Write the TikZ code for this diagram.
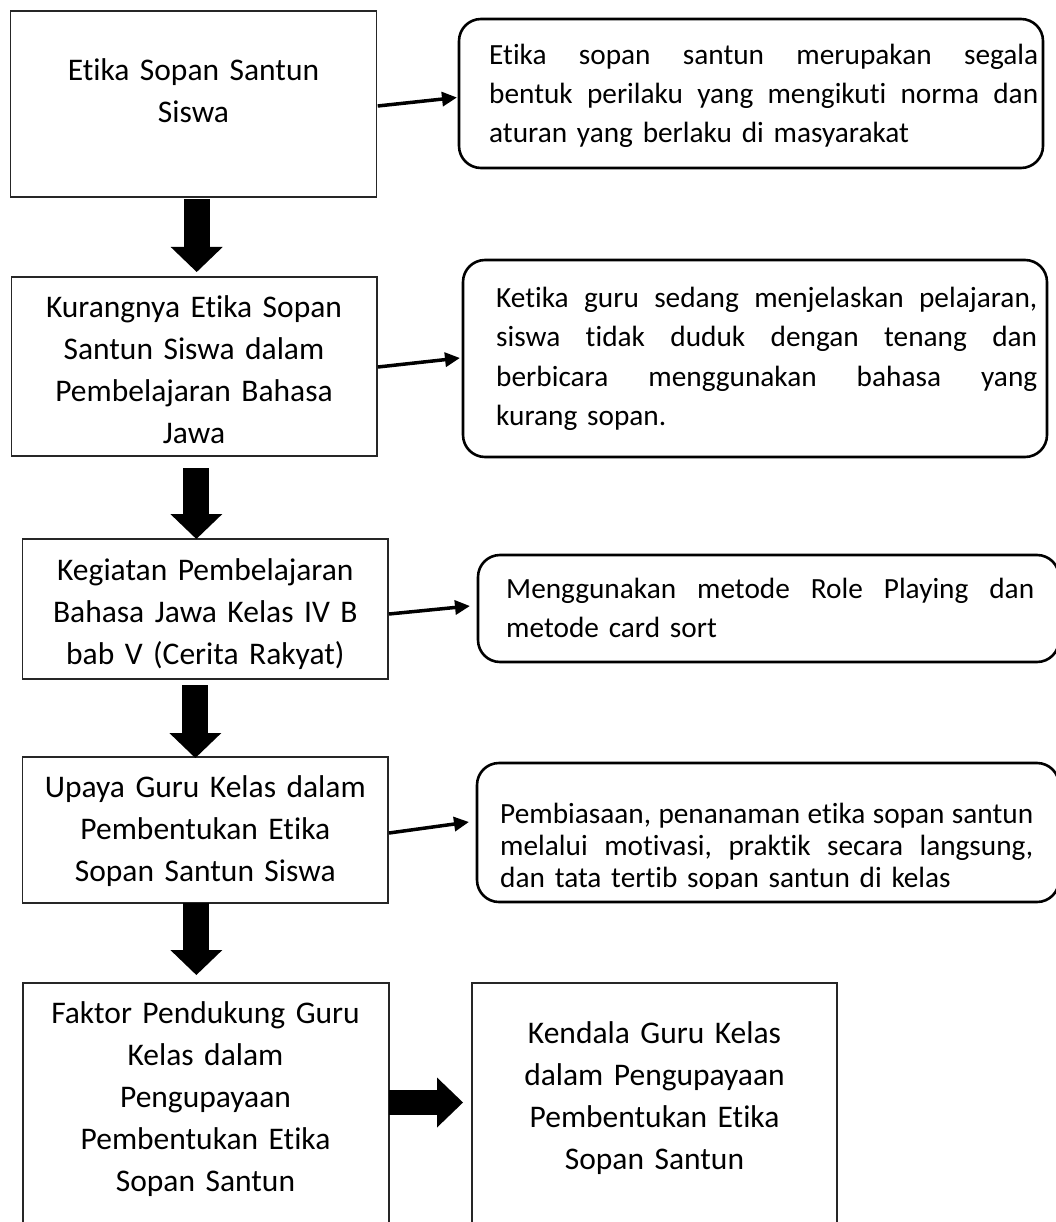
\documentclass[tikz,border=0pt]{standalone}
\usepackage{fontspec}
\setmainfont{Carlito}[Ligatures=NoCommon]
\usetikzlibrary{arrows.meta,calc}
\newcommand{\jline}[2]{\leavevmode\hbox to #1{#2}}
\begin{document}
\begin{tikzpicture}[x=1pt,y=-1pt,
 plainbox/.style={draw=black!85,line width=1.3pt,inner sep=0pt,outer sep=0pt},
 roundbox/.style={draw=black,line width=2.6pt,rounded corners=22pt,inner sep=0pt,outer sep=0pt},
 boxtext/.style={font=\fontsize{31.5pt}{42pt}\selectfont,text width=372pt,align=center,anchor=base,inner sep=0pt},
 sidetext/.style={font=\fontsize{29.3pt}{39pt}\selectfont,align=left,anchor=base west,inner sep=0pt},
 blockarrow/.style={line width=26pt,-{Triangle[length=25pt 0 0,width=52pt 0 0,line width=0pt]}},
 blockarrowh/.style={line width=25pt,-{Triangle[length=26pt 0 0,width=50pt 0 0,line width=0pt]}},
 thinarrow/.style={line width=3.5pt,-{Triangle[length=15pt 0 0,width=14pt 0 0]}}
]
\useasboundingbox (0,0) rectangle (1055,1222);

% left column boxes
\node[plainbox,minimum width=366pt,minimum height=186pt] (b1) at (193.7,104) {};
\node[plainbox,minimum width=365.3pt,minimum height=179pt] (b2) at (194.35,366.5) {};
\node[plainbox,minimum width=365.3pt,minimum height=140pt] (b3) at (205.35,609) {};
\node[plainbox,minimum width=365.3pt,minimum height=146pt] (b4) at (205.35,830) {};
\node[plainbox,minimum width=366pt,minimum height=257pt] (b5) at (206,1111.5) {};
\node[plainbox,minimum width=365pt,minimum height=257pt] (b6) at (654.5,1111.5) {};

% rounded boxes
\node[roundbox,minimum width=584pt,minimum height=149pt] (r1) at (751,93.5) {};
\node[roundbox,minimum width=584pt,minimum height=197pt] (r2) at (755,358.5) {};
\node[roundbox,minimum width=581pt,minimum height=107pt] (r3) at (768.5,608.5) {};
\node[roundbox,minimum width=582pt,minimum height=139pt] (r4) at (768,832.5) {};

% box texts
\node[boxtext] (t1) at (193.5,81) {Etika Sopan Santun\\Siswa};
\node[boxtext] (t2) at (194,317) {Kurangnya Etika Sopan\\Santun Siswa dalam\\Pembelajaran Bahasa\\Jawa};
\node[boxtext] (t3) at (205.3,580) {Kegiatan Pembelajaran\\Bahasa Jawa Kelas IV B\\bab V (Cerita Rakyat)};
\node[boxtext] (t4) at (205.3,797) {Upaya Guru Kelas dalam\\Pembentukan Etika\\Sopan Santun Siswa};
\node[boxtext] (t5) at (205.5,1023) {Faktor Pendukung Guru\\Kelas dalam\\Pengupayaan\\Pembentukan Etika\\Sopan Santun};
\node[boxtext] (t6) at (654.5,1043) {Kendala Guru Kelas\\dalam Pengupayaan\\Pembentukan Etika\\Sopan Santun};

% side texts
\node[sidetext,text width=549pt] (s1) at (489,65) {\jline{549pt}{Etika \hfill sopan \hfill santun \hfill merupakan \hfill segala}\\
\jline{549pt}{bentuk \hfill perilaku \hfill yang \hfill mengikuti \hfill norma \hfill dan}\\
aturan yang berlaku di masyarakat};
\node[sidetext,text width=541pt] (s2) at (496,308) {\jline{541pt}{Ketika \hfill guru \hfill sedang \hfill menjelaskan \hfill pelajaran,}\\
\jline{541pt}{siswa \hfill tidak \hfill duduk \hfill dengan \hfill tenang \hfill dan}\\
\jline{541pt}{berbicara \hfill menggunakan \hfill bahasa \hfill yang}\\
kurang sopan.};
\node[sidetext,text width=528pt] (s3) at (506,598) {\jline{528pt}{Menggunakan \hfill metode \hfill Role \hfill Playing \hfill dan}\\
metode card sort};
\begin{scope}
\clip (470,755) rectangle (1059,888.5);
\node[sidetext,text width=533pt,font=\fontsize{29.3pt}{32pt}\selectfont] (s4) at (500,823) {\jline{533pt}{Pembiasaan,\hfill penanaman\hfill etika\hfill sopan\hfill santun}\\
\jline{533pt}{melalui \hfill motivasi, \hfill praktik \hfill secara \hfill langsung,}\\
dan tata tertib sopan santun di kelas};
\end{scope}

% thick downward arrows
\draw[blockarrow] ($(b1.south)+(3,2)$) -- ($(b1.south |- b2.north)+(3,-5)$);
\draw[blockarrow] ($(b2.south)+(2,12)$) -- ($(b2.south |- b3.north)+(2,0)$);
\draw[blockarrow] ($(b3.south)+(-10,6)$) -- ($(b3.south |- b4.north)+(-10,1)$);
\draw[blockarrow] ($(b4.south)+(-9,0)$) -- ($(b4.south |- b5.north)+(-9,-8)$);
% horizontal block arrow
\draw[blockarrowh] ($(b5.east)+(0,-9)$) -- ($(b6.west)+(-9,-9)$);

% thin arrows
\draw[thinarrow] ($(b1.east)+(1,2)$) -- ($(r1.west)+(-2,4)$);
\draw[thinarrow] ($(b2.east)+(1,0.5)$) -- ($(r2.west)+(-3,-0.5)$);
\draw[thinarrow] ($(b3.east)+(1,5)$) -- ($(r3.west)+(-8,-2.5)$);
\draw[thinarrow] ($(b4.east)+(1,3)$) -- ($(r4.west)+(-8,-10.5)$);
\end{tikzpicture}
\end{document}
